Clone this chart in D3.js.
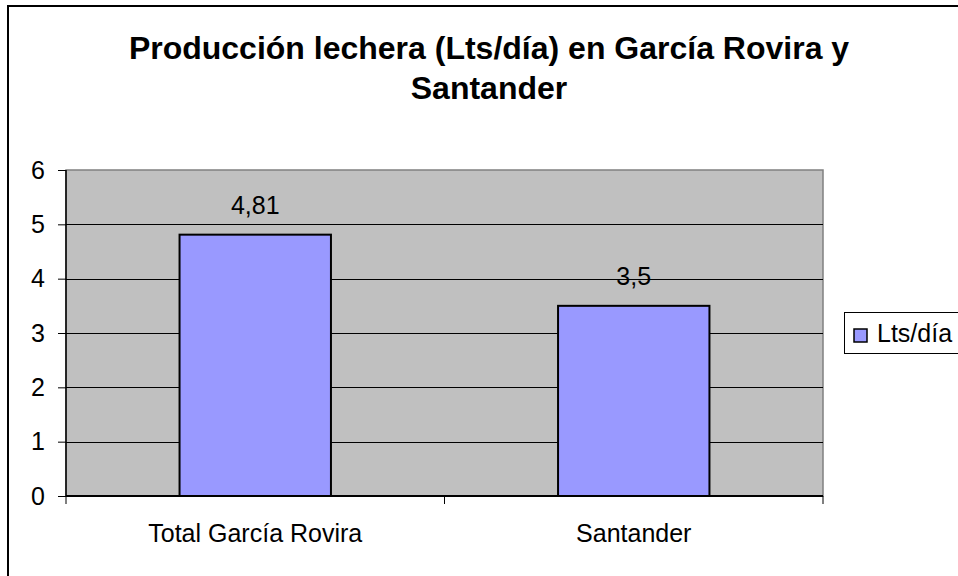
<!DOCTYPE html>
<html>
<head>
<meta charset="utf-8">
<script src="https://cdn.jsdelivr.net/npm/d3@7"></script>
<style>
	body { margin: 0; background: #fff; }
	text { font-family: Arial, "Liberation Sans", sans-serif; fill: #000; }
</style>
</head>
<body>
<div id="chart"></div>
<script>
// data
var categories = ['Total García Rovira', 'Santander'];
var values = [4.81, 3.5];
var valueLabels = ['4,81', '3,5'];
var yTicks = [0, 1, 2, 3, 4, 5, 6];
var seriesName = 'Lts/día';
var titleLines = ['Producción lechera (Lts/día) en García Rovira y', 'Santander'];

// build canvas
var width = 958,
	height = 576;

var svg = d3.select('#chart')
			.append('svg')
			.attr('width', width)
			.attr('height', height);

// outer chart border
svg.append('rect')
	.attr('x', 8)
	.attr('y', 6)
	.attr('width', 1000)
	.attr('height', 700)
	.attr('fill', '#fff')
	.attr('stroke', '#000')
	.attr('stroke-width', 2);

// plot area
var plot = { left: 66, top: 170, right: 823, bottom: 496 };

var x = d3.scaleBand()
		.domain(categories)
		.range([plot.left, plot.right])
		.paddingInner(0.6)
		.paddingOuter(0.3);

var y = d3.scaleLinear()
		.domain([0, 6])
		.range([plot.bottom, plot.top]);

svg.append('rect')
	.attr('x', plot.left)
	.attr('y', plot.top)
	.attr('width', plot.right - plot.left)
	.attr('height', plot.bottom - plot.top)
	.attr('fill', '#c0c0c0')
	.attr('stroke', '#808080')
	.attr('stroke-width', 1.5);

// gridlines
svg.append('g')
	.selectAll('line')
	.data(yTicks.filter(d => d > 0 && d < 6)).enter()
	.append('line')
	.attr('x1', plot.left)
	.attr('x2', plot.right)
	.attr('y1', d => Math.round(y(d)) + 0.5)
	.attr('y2', d => Math.round(y(d)) + 0.5)
	.attr('stroke', '#000')
	.attr('stroke-width', 1);

// bars
svg.append('g')
	.selectAll('rect')
	.data(values).enter()
	.append('rect')
	.attr('x', (d, i) => x(categories[i]))
	.attr('y', d => y(d))
	.attr('width', x.bandwidth())
	.attr('height', d => y(0) - y(d))
	.attr('fill', '#9999ff')
	.attr('stroke', '#000')
	.attr('stroke-width', 2);

// value labels
svg.append('g')
	.selectAll('text')
	.data(values).enter()
	.append('text')
	.attr('x', (d, i) => x(categories[i]) + x.bandwidth() / 2)
	.attr('y', d => y(d) - 21)
	.attr('text-anchor', 'middle')
	.style('font-size', '25px')
	.text((d, i) => valueLabels[i]);

// y axis
var yAxis = svg.append('g')
	.attr('transform', 'translate(' + plot.left + ',0)')
	.call(d3.axisLeft(y).tickValues(yTicks).tickSize(8).tickPadding(13).tickFormat(d3.format('d')));
yAxis.select('.domain').attr('stroke', '#000').attr('stroke-width', 1.5).attr('d', 'M0,' + plot.top + 'V' + plot.bottom);
yAxis.selectAll('.tick line').attr('stroke', '#000');
yAxis.selectAll('.tick text')
	.style('font-size', '25px')
	.style('font-family', 'Arial, "Liberation Sans", sans-serif')
	.attr('fill', '#000');

// x axis
var xEdges = d3.scaleLinear().domain([0, categories.length]).range([plot.left, plot.right]);
var xAxis = svg.append('g');
xAxis.append('line')
	.attr('x1', plot.left)
	.attr('x2', plot.right)
	.attr('y1', plot.bottom)
	.attr('y2', plot.bottom)
	.attr('stroke', '#000')
	.attr('stroke-width', 2);
xAxis.selectAll('.xtick')
	.data(d3.range(categories.length + 1)).enter()
	.append('line')
	.attr('x1', d => xEdges(d))
	.attr('x2', d => xEdges(d))
	.attr('y1', plot.bottom)
	.attr('y2', plot.bottom + 8)
	.attr('stroke', '#000');
xAxis.selectAll('text')
	.data(categories).enter()
	.append('text')
	.attr('x', d => x(d) + x.bandwidth() / 2)
	.attr('y', 542)
	.attr('text-anchor', 'middle')
	.style('font-size', '25px')
	.text(d => d);

// title
svg.append('text')
	.attr('x', 489)
	.attr('y', 59)
	.attr('text-anchor', 'middle')
	.style('font-size', '32px')
	.style('font-weight', 'bold')
	.selectAll('tspan')
	.data(titleLines).enter()
	.append('tspan')
	.attr('x', 489)
	.attr('dy', (d, i) => i === 0 ? 0 : 40)
	.text(d => d);

// legend
var legend = svg.append('g');
legend.append('rect')
	.attr('x', 844.5)
	.attr('y', 312.5)
	.attr('width', 200)
	.attr('height', 41)
	.attr('fill', '#fff')
	.attr('stroke', '#000')
	.attr('stroke-width', 1);
legend.append('rect')
	.attr('x', 854)
	.attr('y', 329)
	.attr('width', 13)
	.attr('height', 13)
	.attr('fill', '#9999ff')
	.attr('stroke', '#000')
	.attr('stroke-width', 1.5);
legend.append('text')
	.attr('x', 877)
	.attr('y', 342)
	.style('font-size', '25px')
	.text(seriesName);
</script>
</body>
</html>
